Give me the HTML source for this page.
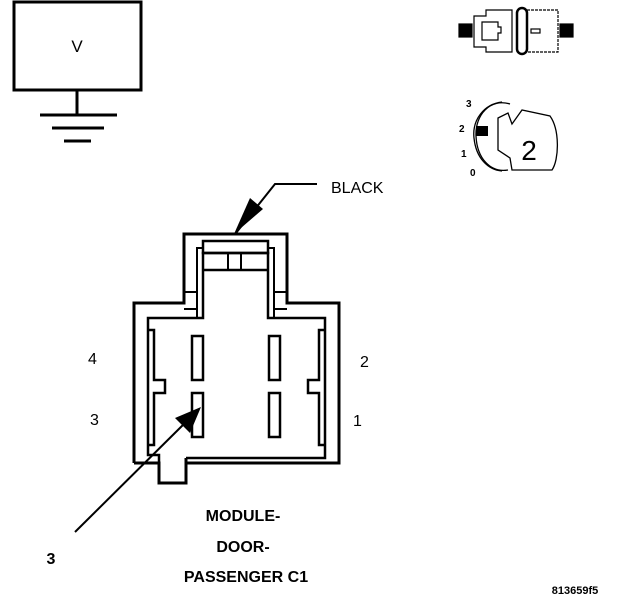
<!DOCTYPE html>
<html><head><style>
html,body{margin:0;padding:0;background:#fff;}
svg{display:block;}
text{font-family:"Liberation Sans",sans-serif;fill:#000;}
</style></head><body>
<svg width="624" height="600" viewBox="0 0 624 600" xmlns="http://www.w3.org/2000/svg">
<!-- V box -->
<rect x="14" y="2" width="127" height="88" fill="none" stroke="#000" stroke-width="3"/>
<text x="77" y="52" font-size="17" text-anchor="middle">V</text>
<g stroke="#000" stroke-width="3">
<line x1="77" y1="90" x2="77" y2="115"/>
<line x1="40" y1="115" x2="117" y2="115"/>
<line x1="52" y1="128" x2="104" y2="128"/>
<line x1="64" y1="141" x2="91" y2="141"/>
</g>
<!-- connector icon -->
<g fill="none" stroke="#000" stroke-width="1.2">
<rect x="459" y="24" width="13" height="13" fill="#000"/>
<rect x="560" y="24" width="13" height="13" fill="#000"/>
<path d="M474,16 L486,16 L486,10 L512,10 L512,52 L486,52 L486,47 L474,47 Z"/>
<path d="M482,22 L498,22 L498,27 L501,27 L501,33 L498,33 L498,40 L482,40 Z"/>
<path d="M527,10 L558,10 L558,52 L527,52" stroke-dasharray="3,1"/>
<rect x="517" y="8" width="10" height="46" rx="5" stroke-width="2.5"/>
<rect x="531" y="29" width="9" height="4"/>
</g>
<!-- key icon -->
<g fill="none" stroke="#000" stroke-width="1.3">
<path d="M510,104 C490,98 475,115 476,136 C477,158 490,173 508,170"/>
<path d="M502,102 C484,104 472,120 474,138 C476,158 488,170 502,171"/>
<path d="M498,118 L508,113 L512,124 L522,110 L550,116 C560,130 559,160 552,170 L512,170 L510,158 L498,150 Z" fill="#fff"/>
</g>
<rect x="476" y="126" width="12" height="10" fill="#000"/>
<text x="529" y="160" font-size="28" text-anchor="middle">2</text>
<g font-size="10" font-weight="bold">
<text x="466" y="107">3</text>
<text x="459" y="132">2</text>
<text x="461" y="157">1</text>
<text x="470" y="176">0</text>
</g>
<!-- BLACK leader -->
<g stroke="#000" stroke-width="2" fill="none">
<polyline points="317,184 275,184 236,233"/>
</g>
<polygon points="234,234 250,198 263,209" fill="#000"/>
<text x="331" y="193" font-size="16">BLACK</text>
<!-- connector housing -->
<g fill="none" stroke="#000" stroke-width="3">
<path d="M134,463 L134,303 L184,303 L184,234 L287,234 L287,303 L339,303 L339,463 L186,463"/>
<path d="M134,463 L159,463 L159,483 L186,483 L186,458"/>
<path d="M159,463 L159,455 L148,455 L148,318 L203,318 L203,253 L268,253 L268,318 L325,318 L325,458 L186,458" stroke-width="2.5"/>
<rect x="203" y="241" width="65" height="12" stroke-width="2.5"/>
<line x1="203" y1="270" x2="268" y2="270" stroke-width="2.5"/>
<line x1="228" y1="253" x2="228" y2="270" stroke-width="2"/>
<line x1="241" y1="253" x2="241" y2="270" stroke-width="2"/>
<path d="M203,248 L197,248 L197,318" stroke-width="2"/>
<path d="M268,248 L274,248 L274,318" stroke-width="2"/>
<line x1="184" y1="292" x2="197" y2="292" stroke-width="2"/>
<line x1="287" y1="292" x2="274" y2="292" stroke-width="2"/>
<line x1="184" y1="309" x2="197" y2="309" stroke-width="2"/>
<line x1="287" y1="309" x2="274" y2="309" stroke-width="2"/>
<rect x="192" y="336" width="11" height="44" stroke-width="2.5"/>
<rect x="192" y="393" width="11" height="44" stroke-width="2.5"/>
<rect x="269" y="336" width="11" height="44" stroke-width="2.5"/>
<rect x="269" y="393" width="11" height="44" stroke-width="2.5"/>
<path d="M148,330 L154,330 L154,380 L165,380 L165,393 L154,393 L154,445 L148,445" stroke-width="2.5"/>
<path d="M325,330 L319,330 L319,380 L308,380 L308,393 L319,393 L319,445 L325,445" stroke-width="2.5"/>
</g>
<!-- pin 3 arrow -->
<line x1="75" y1="532" x2="190" y2="418" stroke="#000" stroke-width="2"/>
<polygon points="201,407 175,418 190,433" fill="#000"/>
<g font-size="16">
<text x="88" y="364">4</text>
<text x="90" y="425">3</text>
<text x="360" y="367">2</text>
<text x="353" y="426">1</text>
</g>
<g font-size="16" font-weight="bold" text-anchor="middle">
<text x="51" y="564">3</text>
<text x="243" y="521">MODULE-</text>
<text x="243" y="552">DOOR-</text>
<text x="246" y="582">PASSENGER C1</text>
</g>
<text x="575" y="594" font-size="11" font-weight="bold" text-anchor="middle">813659f5</text>
</svg>
</body></html>
